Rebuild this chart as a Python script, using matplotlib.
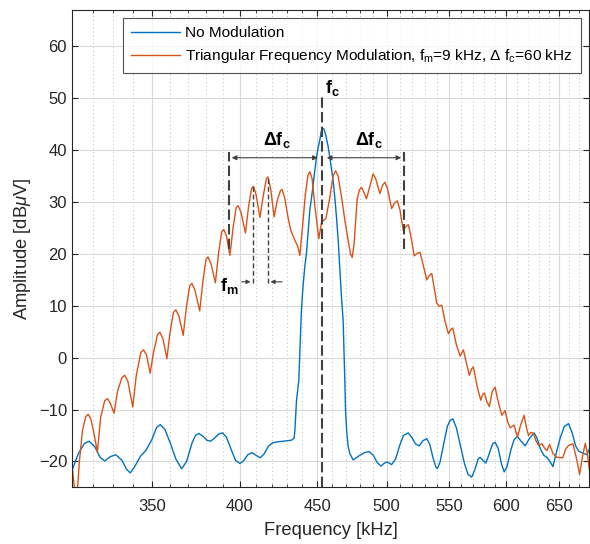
import matplotlib
matplotlib.use("Agg")
import matplotlib.pyplot as plt
import numpy as np
from matplotlib.ticker import FixedLocator, NullFormatter

plt.rcParams["font.family"] = ["Liberation Sans", "DejaVu Sans"]
plt.rcParams["mathtext.fontset"] = "custom"
plt.rcParams["mathtext.rm"] = "Liberation Sans"
plt.rcParams["mathtext.it"] = "Liberation Sans:italic"
plt.rcParams["mathtext.bf"] = "Liberation Sans:bold"

# Spectrum without modulation: frequency [kHz], amplitude [dBuV]
plain_freq = [310.0, 313.0, 316.0, 318.2, 321.0, 323.5, 325.8, 328.5, 331.3, 334.5,
              336.8, 338.7, 341.0, 344.0, 346.8, 350.0, 352.5, 354.5, 357.0, 360.0,
              363.0, 366.2, 369.0, 372.0, 374.0, 375.9, 378.5, 380.5, 382.7, 385.0,
              387.5, 389.7, 392.0, 395.0, 397.5, 400.2, 402.5, 405.0, 407.5, 410.0,
              412.6, 415.0, 418.0, 420.6, 424.0, 427.3, 432.8, 434.5, 435.0, 436.1,
              437.6, 439.4, 440.5, 441.6, 442.7, 445.0, 446.2, 448.4, 449.5, 450.7,
              451.8, 452.8, 453.7, 454.7, 455.8, 457.6, 459.3, 461.0, 462.2, 463.4,
              464.6, 465.8, 467.0, 468.1, 469.3, 469.8, 470.6, 471.6, 472.9, 475.3,
              477.5, 480.2, 483.5, 487.0, 490.0, 493.0, 495.8, 498.0, 500.1, 502.0,
              503.9, 507.0, 510.0, 513.0, 516.8, 520.0, 522.5, 525.3, 528.5, 531.5,
              534.0, 536.5, 539.0, 540.2, 542.4, 545.5, 548.5, 550.7, 553.0, 556.0,
              559.5, 563.0, 566.0, 569.2, 572.0, 574.5, 576.4, 579.0, 581.5, 584.5,
              587.5, 589.7, 592.5, 595.5, 597.9, 600.5, 604.0, 607.0, 610.1, 613.5,
              617.3, 621.5, 625.8, 628.5, 631.6, 635.0, 638.0, 641.0, 643.9, 647.0,
              651.0, 655.0, 659.4, 663.0, 666.5, 669.5, 674.0, 678.1, 680.5]
plain_amp = [-21.7, -18.5, -16.5, -16.1, -17.2, -19.2, -19.9, -19.1, -18.7, -19.8,
             -21.5, -22.2, -21.0, -19.0, -17.9, -15.8, -13.5, -12.9, -13.8, -16.5,
             -19.5, -21.4, -20.0, -16.5, -15.0, -14.6, -15.2, -15.9, -16.1, -15.5,
             -14.7, -14.5, -15.3, -17.8, -19.8, -20.4, -19.8, -18.7, -18.3, -18.8,
             -19.3, -18.6, -17.0, -16.4, -16.2, -16.1, -15.9, -15.5, -14.0, -8.2,
             -4.4, 9.5, 14.0, 17.5, 20.0, 28.4, 30.9, 36.1, 38.6, 40.5,
             41.9, 43.6, 44.2, 44.0, 43.0, 40.6, 37.5, 34.2, 30.9, 27.0,
             22.6, 17.0, 11.3, 7.2, -4.4, -10.0, -14.0, -17.0, -18.5, -19.7,
             -19.3, -18.8, -18.3, -18.1, -18.8, -20.2, -20.9, -20.4, -20.1, -20.3,
             -20.6, -19.5, -17.0, -15.0, -14.5, -15.5, -16.6, -17.0, -16.0, -15.6,
             -16.7, -19.2, -21.1, -21.4, -20.1, -16.5, -13.2, -12.1, -11.8, -13.5,
             -17.0, -20.5, -22.5, -23.0, -21.5, -19.6, -19.2, -19.8, -20.3, -18.5,
             -16.6, -16.3, -17.5, -20.5, -22.0, -21.0, -17.8, -15.8, -15.2, -16.1,
             -17.0, -15.5, -14.5, -15.5, -17.5, -18.8, -19.2, -20.0, -21.0, -18.5,
             -15.5, -13.3, -12.7, -14.5, -17.0, -18.0, -18.4, -18.7, -17.6]

# Spectrum with triangular frequency modulation
tri_freq = [310.0, 311.0, 312.2, 313.5, 315.0, 316.5, 317.7, 319.0, 320.5, 322.2,
            323.8, 325.8, 327.2, 328.6, 330.5, 332.2, 334.5, 335.9, 337.5, 340.0,
            341.8, 344.2, 345.6, 347.2, 349.1, 350.8, 353.0, 354.3, 356.0, 358.1,
            359.8, 361.7, 363.0, 364.7, 367.1, 368.8, 370.7, 372.0, 373.7, 376.4,
            378.2, 380.0, 381.2, 383.0, 385.5, 387.3, 389.2, 390.4, 392.0, 394.1,
            396.0, 397.8, 399.0, 400.8, 403.5, 405.4, 407.3, 408.4, 410.0, 412.5,
            414.5, 416.5, 417.6, 419.3, 421.5, 423.5, 425.5, 426.6, 428.3, 430.5,
            432.3, 435.0, 436.8, 438.3, 440.0, 442.0, 443.8, 445.0, 446.5, 448.5,
            451.1, 453.0, 456.0, 458.5, 461.0, 462.8, 464.5, 467.0, 469.3, 471.7,
            473.3, 474.6, 476.0, 478.2, 479.8, 481.4, 483.2, 485.0, 487.5, 489.9,
            491.8, 495.0, 497.0, 498.8, 500.8, 503.9, 506.2, 508.2, 510.3, 512.9,
            515.0, 516.9, 518.8, 521.5, 524.0, 526.1, 528.5, 531.5, 533.5, 535.6,
            537.5, 539.7, 541.5, 543.8, 546.5, 549.3, 551.2, 553.0, 556.0, 559.2,
            562.0, 564.5, 567.1, 569.0, 570.6, 573.8, 577.0, 578.6, 580.2, 582.4,
            584.6, 587.2, 589.7, 592.5, 595.8, 598.8, 601.0, 603.4, 607.0, 610.1,
            613.0, 616.3, 618.5, 620.4, 622.8, 625.2, 627.5, 629.9, 633.2, 636.0,
            638.0, 640.6, 644.0, 647.8, 653.5, 656.5, 659.4, 663.8, 667.5, 670.5,
            673.5, 676.4, 678.5, 680.5]
tri_amp = [-20.7, -24.5, -28.0, -20.0, -14.0, -11.4, -10.9, -11.8, -14.5, -18.2,
           -11.5, -8.3, -7.9, -8.8, -10.7, -6.5, -3.8, -3.4, -4.6, -9.5,
           -3.5, 1.0, 1.5, 0.5, -3.0, 0.8, 4.4, 4.9, 3.6, -0.2,
           4.8, 8.7, 9.2, 8.0, 4.3, 9.5, 13.8, 14.3, 13.0, 9.0,
           14.5, 18.9, 19.4, 18.0, 14.4, 20.0, 24.2, 24.7, 23.5, 19.7,
           25.0, 28.8, 29.3, 28.0, 24.0, 29.0, 32.6, 33.0, 31.5, 27.0,
           31.0, 34.4, 34.8, 32.5, 27.1, 30.3, 32.1, 32.4, 30.8, 27.0,
           24.5, 22.6, 21.5, 19.7, 25.0, 31.5, 35.2, 35.8, 34.5, 29.0,
           22.9, 26.1, 26.8, 30.5, 35.0, 36.0, 35.0, 30.9, 26.5, 22.6,
           20.0, 19.3, 22.0, 30.6, 32.3, 32.8, 31.8, 30.6, 33.0, 35.4,
           34.5, 31.6, 33.2, 33.8, 32.5, 28.7, 29.8, 30.2, 28.5, 24.5,
           25.3, 25.6, 23.5, 19.6, 20.1, 20.3, 18.0, 15.0, 15.8, 16.2,
           13.5, 10.5, 9.9, 10.1, 7.0, 4.6, 5.4, 5.7, 2.5, 0.3,
           1.5, -1.0, -3.4, -2.2, -1.8, -5.5, -8.2, -7.2, -6.8, -8.5,
           -9.4, -6.5, -5.7, -8.5, -11.1, -10.2, -12.3, -13.5, -13.0, -15.3,
           -13.0, -11.1, -13.5, -15.0, -14.4, -14.6, -16.0, -16.9, -16.6, -17.5,
           -17.9, -16.7, -18.5, -19.2, -19.3, -17.6, -16.9, -16.6, -19.5, -22.5,
           -19.0, -16.5, -18.5, -21.5]

f_c = 453.5      # carrier frequency [kHz]
delta_fc = 60    # frequency deviation [kHz]
f_m = 9          # modulation frequency [kHz]
fm_peak = 408.4  # sideband used to show f_m

x_ticks = [350, 400, 450, 500, 550, 600, 650]
x_minor = [f for f in range(310, 690, 10) if f not in x_ticks]
y_ticks = list(range(-20, 70, 10))

blue = (0.0, 0.447, 0.741)
orange = (0.85, 0.325, 0.098)
dark = (0.15, 0.15, 0.15)
ann = (0.25, 0.25, 0.25)

fig = plt.figure(figsize=(5.9, 5.44), dpi=100)
ax = fig.add_axes([0.122, 0.104, 0.876, 0.878])

ax.plot(plain_freq, plain_amp, color=blue, linewidth=1.0, label="No Modulation")
ax.plot(tri_freq, tri_amp, color=orange, linewidth=1.0,
        label=r"Triangular Frequency Modulation, $\mathrm{f_m}$=9 kHz, "
              r"$\Delta$ $\mathrm{f_c}$=60 kHz")

ax.set_xscale("log")
ax.set_xlim(310, 680)
ax.set_ylim(-25, 67)
ax.xaxis.set_major_locator(FixedLocator(x_ticks))
ax.xaxis.set_minor_locator(FixedLocator(x_minor))
ax.set_xticklabels([str(t) for t in x_ticks])
ax.xaxis.set_minor_formatter(NullFormatter())
ax.set_yticks(y_ticks)

ax.grid(True, which="major", color=(0.85, 0.85, 0.85), linewidth=0.8)
ax.grid(True, which="minor", axis="x", color=(0.75, 0.75, 0.75),
        linewidth=0.7, linestyle=(0, (1, 3)))
ax.set_axisbelow(True)

ax.tick_params(which="both", direction="in", top=True, right=True,
               labelsize=12, colors=dark)
ax.tick_params(which="major", length=4)
ax.tick_params(which="minor", length=2.5)
ax.tick_params(axis="x", which="major", pad=8)
for s in ax.spines.values():
    s.set_color(dark)
    s.set_linewidth(0.8)

ax.set_xlabel("Frequency [kHz]", fontsize=13.2, color=dark, labelpad=6)
ax.set_ylabel(r"Amplitude [dB$\mu$V]", fontsize=13.2, color=dark)

# carrier line and deviation markers
ax.plot([f_c, f_c], [-25, 50.2], color=ann, linewidth=1.5, dashes=(5, 2))
for f in (f_c - delta_fc, f_c + delta_fc):
    ax.plot([f, f], [21, 39.6], color=ann, linewidth=1.5, dashes=(5, 2))
arrow = dict(arrowstyle="<|-|>", color=ann, linewidth=0.8, mutation_scale=7)
ax.annotate("", xy=(f_c - delta_fc, 38.5), xytext=(f_c - 1.2, 38.5), arrowprops=arrow)
ax.annotate("", xy=(f_c + delta_fc, 38.5), xytext=(f_c + 1.2, 38.5), arrowprops=arrow)
ax.text(455.5, 50.0, r"$\mathbf{f_c}$", fontsize=13, va="bottom", ha="left")
ax.text(423.5, 40.0, r"$\mathbf{\Delta f_c}$", fontsize=13, va="bottom", ha="center")
ax.text(486.5, 40.0, r"$\mathbf{\Delta f_c}$", fontsize=13, va="bottom", ha="center")

# modulation frequency markers
for f in (fm_peak, fm_peak + f_m):
    top = np.interp(f, tri_freq, tri_amp)
    ax.plot([f, f], [14.3, top], color=ann, linewidth=1.0, dashes=(3.5, 2))
one = dict(arrowstyle="-|>", color=ann, linewidth=0.8, mutation_scale=6)
ax.annotate("", xy=(fm_peak, 14.6), xytext=(399.5, 14.6), arrowprops=one)
ax.annotate("", xy=(fm_peak + f_m, 14.6), xytext=(428.5, 14.6), arrowprops=one)
ax.text(399.3, 11.9, r"$\mathbf{f_m}$", fontsize=13, va="bottom", ha="right")

leg = ax.legend(loc="upper right", fontsize=11.1, frameon=True, fancybox=False,
                handlelength=3.2, handletextpad=0.3, borderaxespad=0.5,
                labelspacing=0.45, borderpad=0.55)
leg.get_frame().set_edgecolor(dark)
leg.get_frame().set_linewidth(0.8)
for t in leg.get_texts():
    t.set_color("black")

fig.savefig("out.png", dpi=100)
